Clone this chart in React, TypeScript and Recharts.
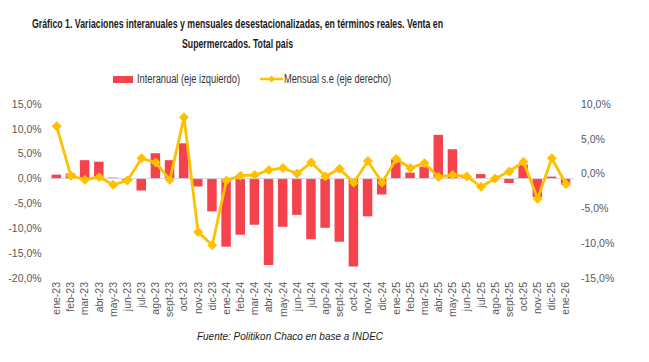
import { ComposedChart, Bar, Line, XAxis, YAxis, ReferenceLine } from "recharts";

const months = [
  "ene-23", "feb-23", "mar-23", "abr-23", "may-23", "jun-23", "jul-23", "ago-23", "sept-23", "oct-23", "nov-23", "dic-23",
  "ene-24", "feb-24", "mar-24", "abr-24", "may-24", "jun-24", "jul-24", "ago-24", "sept-24", "oct-24", "nov-24", "dic-24",
  "ene-25", "feb-25", "mar-25", "abr-25", "may-25", "jun-25", "jul-25", "ago-25", "sept-25", "oct-25", "nov-25", "dic-25",
  "ene-26",
];

// variación interanual (eje izquierdo), %
const interanual = [
  0.8, 1.0, 3.7, 3.4, 0.2, -0.5, -2.4, 5.1, 3.7, 7.1, -1.6, -6.6,
  -13.7, -11.3, -9.3, -17.4, -9.7, -7.3, -12.2, -9.9, -12.7, -17.7, -7.6, -3.2,
  3.9, 1.2, 2.4, 8.8, 5.9, 0.3, 0.9, 0.1, -0.9, 2.8, -3.7, 0.4,
  -1.2,
];

// variación mensual desestacionalizada (eje derecho), %
const mensual = [
  6.8, -0.3, -0.9, -0.5, -1.6, -1.0, 2.2, 1.6, -0.9, 8.1, -8.4, -10.3,
  -1.0, -0.3, -0.2, 0.5, 0.8, 0.0, 1.6, -0.4, 0.7, -1.3, 1.8, -1.3,
  2.1, 0.8, 1.5, -0.5, -0.2, -0.4, -1.9, -0.7, 0.3, 1.7, -3.6, 2.2,
  -1.5,
];

const leftTicks = [15, 10, 5, 0, -5, -10, -15, -20];
const rightTicks = [10, 5, 0, -5, -10, -15];

const data = months.map((m, i) => ({ mes: m, interanual: interanual[i], mensual: mensual[i] }));

const RED = "#F5434D";
const GOLD = "#FFC000";
const AXIS_TEXT = "#595959";
const FONT = "'Liberation Sans Narrow', 'Liberation Sans', Arial, sans-serif";

const pct = (v: number) => v.toFixed(1).replace(".", ",") + "%";

function MonthTick(props: any) {
  const { x, y, payload } = props;
  return (
    <text
      transform={`translate(${x + 3.5},${y}) rotate(-90)`}
      textAnchor="end"
      fontSize={10.5}
      fill={AXIS_TEXT}
      fontFamily={FONT}
    >
      {payload.value}
    </text>
  );
}

function Diamond(props: any) {
  const { cx, cy } = props;
  if (cx == null || cy == null) return null;
  const r = 4.5;
  return (
    <polygon
      points={`${cx},${cy - r} ${cx + r},${cy} ${cx},${cy + r} ${cx - r},${cy}`}
      fill={GOLD}
      stroke={GOLD}
    />
  );
}

function App() {
  return (
    <div style={{ position: "absolute", left: 0, top: 0, width: 649, height: 362, background: "#fff", fontFamily: FONT }}>
      <svg width={649} height={362} style={{ position: "absolute", left: 0, top: 0 }}>
        <text x={32} y={28} fontSize={13} fontWeight="bold" fill="#1a1a1a" fontFamily={FONT} textLength={411} lengthAdjust="spacingAndGlyphs">
          Gráfico 1. Variaciones interanuales y mensuales desestacionalizadas, en términos reales. Venta en
        </text>
        <text x={182} y={48} fontSize={13} fontWeight="bold" fill="#1a1a1a" fontFamily={FONT} textLength={111} lengthAdjust="spacingAndGlyphs">
          Supermercados. Total país
        </text>
        <rect x={113} y={76} width={20} height={7} fill={RED} />
        <text x={137} y={82.5} fontSize={12} fill="#333" fontFamily={FONT} textLength={103} lengthAdjust="spacingAndGlyphs">
          Interanual (eje izquierdo)
        </text>
        <line x1={260} x2={283} y1={79} y2={79} stroke={GOLD} strokeWidth={2.5} />
        <polygon points="271.5,75.5 275,79 271.5,82.5 268,79" fill={GOLD} />
        <text x={284} y={82.5} fontSize={12} fill="#333" fontFamily={FONT} textLength={107} lengthAdjust="spacingAndGlyphs">
          Mensual s.e (eje derecho)
        </text>
        <text x={197} y={340} fontSize={11.5} fontStyle="italic" fill="#1a1a1a" fontFamily={FONT} textLength={186} lengthAdjust="spacingAndGlyphs">
          Fuente: Politikon Chaco en base a INDEC
        </text>
      </svg>
      <div style={{ position: "absolute", left: 0, top: 0 }}>
        <ComposedChart
          width={649}
          height={362}
          data={data}
          margin={{ top: 104, right: 6, bottom: 44, left: 5.6 }}
        >
          <XAxis
            dataKey="mes"
            interval={0}
            axisLine={false}
            tickLine={false}
            tick={<MonthTick />}
            tickSize={0}
            tickMargin={4}
            height={40}
          />
          <YAxis
            yAxisId="left"
            orientation="left"
            width={44}
            domain={[-20, 15]}
            ticks={leftTicks}
            tickFormatter={pct}
            axisLine={false}
            tickLine={false}
            tick={{ fontSize: 10.5, fill: AXIS_TEXT, fontFamily: FONT }}
          />
          <YAxis
            yAxisId="right"
            orientation="right"
            width={70}
            domain={[-15, 10]}
            ticks={rightTicks}
            tickFormatter={pct}
            axisLine={false}
            tickLine={false}
            tick={{ fontSize: 10.5, fill: AXIS_TEXT, fontFamily: FONT }}
          />
          <ReferenceLine yAxisId="left" y={0} stroke="#d4d2e0" strokeWidth={1} />
          <Bar yAxisId="left" dataKey="interanual" fill={RED} barSize={9.5} isAnimationActive={false} />
          <Line
            yAxisId="right"
            type="linear"
            dataKey="mensual"
            stroke={GOLD}
            strokeWidth={2.8}
            dot={<Diamond />}
            activeDot={false}
            isAnimationActive={false}
          />
        </ComposedChart>
      </div>
    </div>
  );
}

export default App;
